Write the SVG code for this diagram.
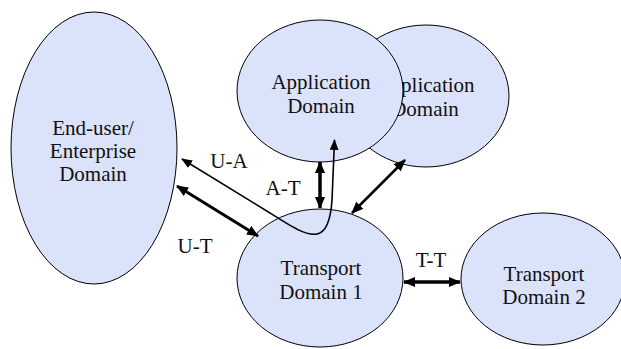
<svg xmlns="http://www.w3.org/2000/svg" width="621" height="349" viewBox="0 0 621 349" font-family="Liberation Serif, Tinos, DejaVu Serif, Noto Serif, serif">
<style>
.node{fill:#dbe3fb;stroke:#000;stroke-width:1}
.t{font-size:21px;fill:#111;text-anchor:middle}
.c{fill:none;stroke:#000}
</style>
<defs>
<marker id="ah" viewBox="0 0 12 10" refX="11" refY="5" markerWidth="12" markerHeight="10" markerUnits="userSpaceOnUse" orient="auto-start-reverse">
<path d="M0,0 L12,5 L0,10 z" fill="#000"/>
</marker>
<marker id="ahs" viewBox="0 0 11 9" refX="10" refY="4.5" markerWidth="11" markerHeight="9" markerUnits="userSpaceOnUse" orient="auto-start-reverse">
<path d="M0,0 L11,4.5 L0,9 z" fill="#000"/>
</marker>
</defs>
<rect width="621" height="349" fill="#fff"/>
<g id="enduser">
<ellipse class="node" cx="94" cy="148" rx="83" ry="136"/>
<text class="t" x="93" y="135" font-family="Liberation Serif, serif">End-user/</text>
<text class="t" x="93" y="158" font-family="Liberation Serif, serif">Enterprise</text>
<text class="t" x="93" y="181" font-family="Liberation Serif, serif">Domain</text>
</g>
<g id="app2">
<ellipse class="node" cx="426" cy="96" rx="83" ry="71"/>
<text class="t" x="425" y="92" font-family="Liberation Serif, serif">Application</text>
<text class="t" x="425" y="116" font-family="Liberation Serif, serif">Domain</text>
</g>
<g id="app1">
<ellipse class="node" cx="320" cy="91" rx="83" ry="71"/>
<text class="t" x="321" y="89" font-family="Liberation Serif, serif">Application</text>
<text class="t" x="321" y="113" font-family="Liberation Serif, serif">Domain</text>
</g>
<g id="transport1">
<ellipse class="node" cx="320" cy="278" rx="83" ry="69"/>
<text class="t" x="321" y="275" font-family="Liberation Serif, serif">Transport</text>
<text class="t" x="321" y="299" font-family="Liberation Serif, serif">Domain 1</text>
</g>
<g id="transport2">
<ellipse class="node" cx="543" cy="279" rx="82" ry="66"/>
<text class="t" x="544" y="281" font-family="Liberation Serif, serif">Transport</text>
<text class="t" x="544" y="304" font-family="Liberation Serif, serif">Domain 2</text>
</g>
<g id="connectors">
<path class="c" stroke-width="1.6" d="M182,159 L270,213 C292,227 306,236 317,234 C328,232 331,215 332,200 L334.5,140" marker-start="url(#ahs)" marker-end="url(#ahs)"/>
<line class="c" stroke-width="3" x1="177" y1="186" x2="258" y2="236" marker-start="url(#ah)" marker-end="url(#ah)"/>
<line class="c" stroke-width="3.5" x1="320" y1="162" x2="320" y2="208" marker-start="url(#ah)" marker-end="url(#ah)"/>
<line class="c" stroke-width="2.5" x1="352" y1="213" x2="405" y2="160" marker-start="url(#ah)" marker-end="url(#ah)"/>
<line class="c" stroke-width="3.5" x1="404" y1="282" x2="460" y2="282" marker-start="url(#ah)" marker-end="url(#ah)"/>
<text class="t" x="229" y="168" font-family="Liberation Serif, serif">U-A</text>
<text class="t" x="283" y="195" font-family="Liberation Serif, serif">A-T</text>
<text class="t" x="195" y="253" font-family="Liberation Serif, serif">U-T</text>
<text class="t" x="431" y="267" font-family="Liberation Serif, serif">T-T</text>
</g>
</svg>
